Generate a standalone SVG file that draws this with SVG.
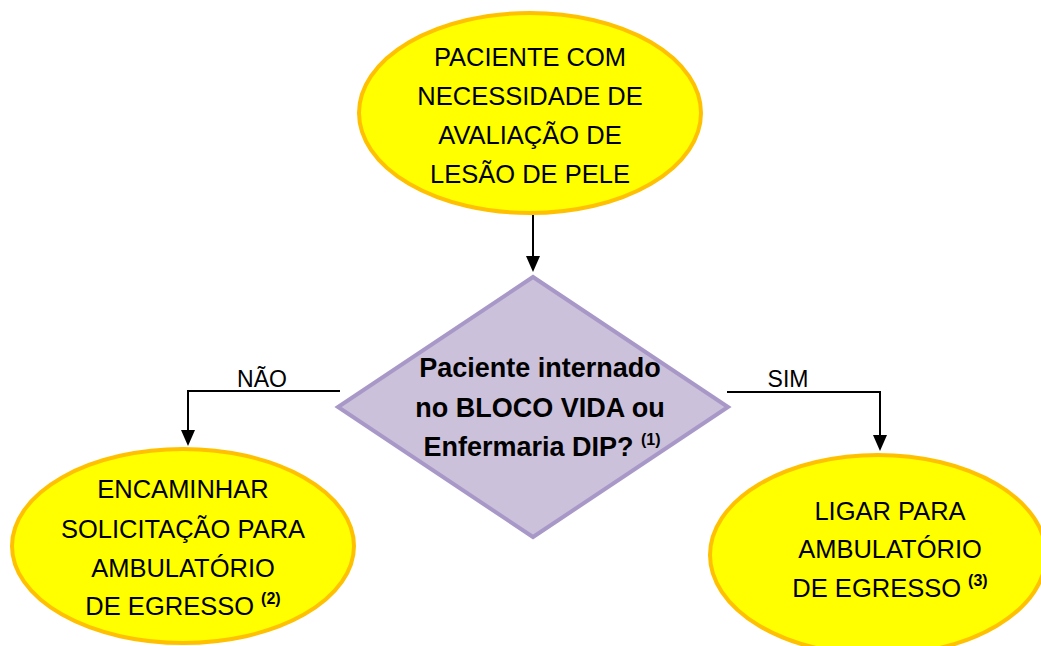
<svg xmlns="http://www.w3.org/2000/svg" width="1041" height="646" viewBox="0 0 1041 646">
<style>
.term{fill:#FFFF00;stroke:#FFC000;stroke-width:4}
.dec{fill:#CCC1DA;stroke:#A898C8;stroke-width:4}
.t{font-family:"Liberation Sans",Arial,sans-serif;font-size:25.5px;fill:#000;text-anchor:middle}
.b{font-family:"Liberation Sans",Arial,sans-serif;font-size:27px;font-weight:bold;fill:#000;text-anchor:middle}
.lbl{font-family:"Liberation Sans",Arial,sans-serif;font-size:23px;fill:#000;text-anchor:middle}
.sup{font-size:16px;font-weight:bold}
.conn{fill:none;stroke:#000;stroke-width:2}
.head{fill:#000}
</style>
<rect width="1041" height="646" fill="#fff"/>
<g id="connectors">
<path class="conn" d="M533,215 V258"/>
<path class="head" d="M526,256 L540,256 L533,272 z"/>
<path class="conn" d="M340,391 H188 V432"/>
<path class="head" d="M181,430 L195,430 L188,446 z"/>
<path class="conn" d="M727,392 H880 V437"/>
<path class="head" d="M873,435 L887,435 L880,451 z"/>
<text class="lbl" x="262" y="387">NÃO</text>
<text class="lbl" x="788" y="387">SIM</text>
</g>
<g id="start">
<ellipse class="term" cx="530" cy="113" rx="171" ry="100"/>
<text class="t" x="530" y="66">PACIENTE COM</text>
<text class="t" x="530" y="105">NECESSIDADE DE</text>
<text class="t" x="530" y="144">AVALIAÇÃO DE</text>
<text class="t" x="530" y="183">LESÃO DE PELE</text>
</g>
<g id="decision">
<polygon class="dec" points="533,277 728,407 533,537 338,407"/>
<text class="b" x="540" y="377">Paciente internado</text>
<text class="b" x="540" y="417">no BLOCO VIDA ou</text>
<text class="b" x="542" y="456">Enfermaria DIP? <tspan class="sup" dy="-11">(1)</tspan></text>
</g>
<g id="nao">
<ellipse class="term" cx="183" cy="546" rx="171" ry="97"/>
<text class="t" x="183" y="498">ENCAMINHAR</text>
<text class="t" x="183" y="538">SOLICITAÇÃO PARA</text>
<text class="t" x="183" y="577">AMBULATÓRIO</text>
<text class="t" x="183" y="615">DE EGRESSO <tspan class="sup" dy="-11">(2)</tspan></text>
</g>
<g id="sim">
<ellipse class="term" cx="878" cy="555" rx="168" ry="100"/>
<text class="t" x="890" y="520">LIGAR PARA</text>
<text class="t" x="890" y="558">AMBULATÓRIO</text>
<text class="t" x="890" y="597">DE EGRESSO <tspan class="sup" dy="-11">(3)</tspan></text>
</g>
</svg>
